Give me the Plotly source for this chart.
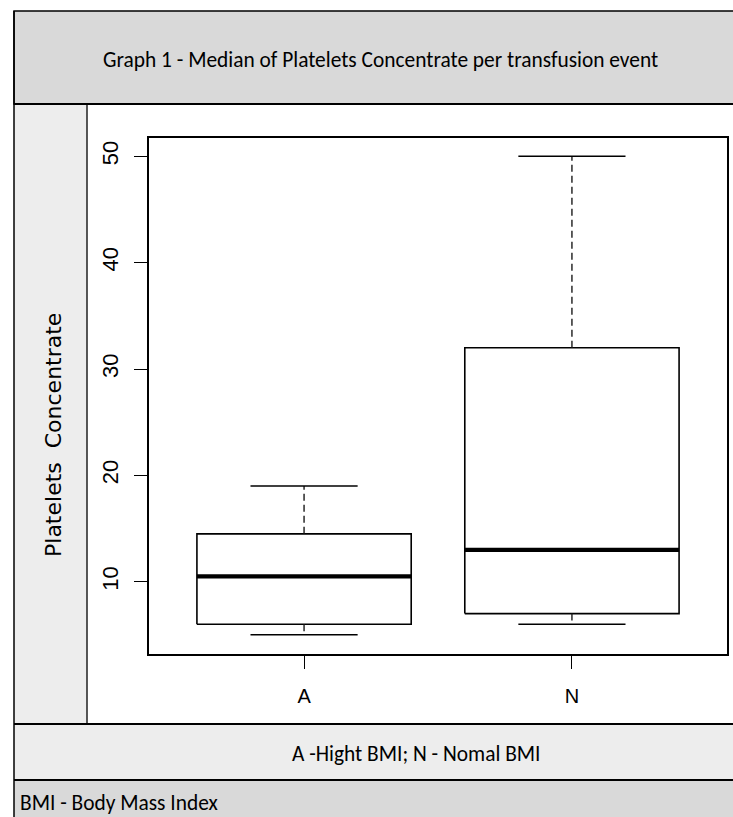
import plotly.graph_objects as go

# ---- data ----
categories = ["A", "N"]
lower_whisker = [5, 6]
q1 = [6, 7]
median = [10.5, 13]
q3 = [14.5, 32]
upper_whisker = [19, 50]
y_ticks = [10, 20, 30, 40, 50]

title_text = "Graph 1 - Median of Platelets Concentrate per transfusion event"
y_title = "Platelets  Concentrate"
x_note = "A -Hight BMI; N - Nomal BMI"
footer = "BMI - Body Mass Index"

W, H = 733, 817
def px(x):
    return x / W
def py(y):
    return 1 - y / H

box_half = 0.4
cap_half = 0.2
positions = [i + 1 for i in range(len(categories))]

fig = go.Figure()
for i, xc in enumerate(positions):
    fig.add_trace(go.Scatter(
        x=[xc - box_half, xc + box_half, xc + box_half, xc - box_half, xc - box_half],
        y=[q1[i], q1[i], q3[i], q3[i], q1[i]],
        mode="lines", fill="toself", fillcolor="white",
        line=dict(color="black", width=1.6), hoverinfo="skip", showlegend=False))
    fig.add_trace(go.Scatter(
        x=[xc, xc, None, xc, xc],
        y=[q3[i], upper_whisker[i], None, q1[i], lower_whisker[i]],
        mode="lines", line=dict(color="#1a1a1a", width=1.4, dash="7px,4px"),
        hoverinfo="skip", showlegend=False))
    fig.add_trace(go.Scatter(
        x=[xc - cap_half, xc + cap_half, None, xc - cap_half, xc + cap_half],
        y=[upper_whisker[i], upper_whisker[i], None, lower_whisker[i], lower_whisker[i]],
        mode="lines", line=dict(color="black", width=1.5),
        hoverinfo="skip", showlegend=False))
    fig.add_trace(go.Scatter(
        x=[xc - box_half, xc + box_half], y=[median[i], median[i]],
        mode="lines", line=dict(color="black", width=4.2),
        hoverinfo="skip", showlegend=False))

shapes = [
    dict(type="rect", xref="paper", yref="paper", x0=px(14), x1=px(745), y0=py(780), y1=py(104),
         fillcolor="#ededed", line=dict(width=0), layer="below"),
    dict(type="rect", xref="paper", yref="paper", x0=px(87), x1=px(745), y0=py(724), y1=py(104),
         fillcolor="white", line=dict(color="#222222", width=1.5), layer="below"),
    dict(type="rect", xref="paper", yref="paper", x0=px(14), x1=px(745), y0=py(104), y1=py(11),
         fillcolor="#d9d9d9", line=dict(color="black", width=1.5), layer="below"),
    dict(type="rect", xref="paper", yref="paper", x0=px(14), x1=px(745), y0=py(840), y1=py(780),
         fillcolor="#d9d9d9", line=dict(width=0), layer="below"),
    dict(type="line", xref="paper", yref="paper", x0=px(14), x1=px(745), y0=py(104), y1=py(104),
         line=dict(color="black", width=2.2)),
    dict(type="line", xref="paper", yref="paper", x0=px(14), x1=px(745), y0=py(724), y1=py(724),
         line=dict(color="black", width=2)),
    dict(type="line", xref="paper", yref="paper", x0=px(14), x1=px(745), y0=py(780), y1=py(780),
         line=dict(color="black", width=2)),
    dict(type="line", xref="paper", yref="paper", x0=px(14), x1=px(14), y0=py(11), y1=py(840),
         line=dict(color="black", width=1.5)),
]

narrow = "Carlito, Lato, Liberation Sans, Arial"
annotations = [
    dict(text=title_text, xref="paper", yref="paper", x=px(380), y=py(60),
         showarrow=False, font=dict(family=narrow, size=21.4, color="black"),
         xanchor="center", yanchor="middle"),
    dict(text=y_title, xref="paper", yref="paper", x=px(53), y=py(435),
         showarrow=False, textangle=-90, font=dict(family="DejaVu Sans", size=22, color="black"),
         xanchor="center", yanchor="middle"),
    dict(text=x_note, xref="paper", yref="paper", x=px(416), y=py(754),
         showarrow=False, font=dict(family=narrow, size=21.4, color="black"),
         xanchor="center", yanchor="middle"),
    dict(text=footer, xref="paper", yref="paper", x=px(18), y=py(803),
         showarrow=False, font=dict(family=narrow, size=21.4, color="black"),
         xanchor="left", yanchor="middle"),
]

fig.update_layout(
    width=W, height=H, margin=dict(l=0, r=0, t=0, b=0),
    paper_bgcolor="white", plot_bgcolor="white",
    shapes=shapes, annotations=annotations, showlegend=False,
    xaxis=dict(domain=[px(148.7), px(727.3)], range=[0.42, 2.58],
               tickmode="array", tickvals=positions, ticktext=categories,
               ticks="outside", ticklen=13, tickwidth=1.3, tickcolor="black",
               showline=True, mirror=True, linecolor="black", linewidth=1.5,
               showgrid=False, zeroline=False, ticklabelstandoff=10,
               tickfont=dict(family="Liberation Sans, Arial", size=20, color="black")),
    yaxis=dict(domain=[py(654), py(137.7)], range=[3.2, 51.75],
               tickmode="array", tickvals=y_ticks, ticktext=[str(v) for v in y_ticks],
               ticks="outside", ticklen=13, tickwidth=1.3, tickcolor="black",
               showline=True, mirror=True, linecolor="black", linewidth=1.5,
               showgrid=False, zeroline=False, tickangle=-90, ticklabelstandoff=7,
               tickfont=dict(family="Liberation Sans, Arial", size=22, color="black")),
)

fig.write_html("out.html", config={"displayModeBar": False},
               post_script="document.body.style.margin='0';document.body.style.overflow='hidden';")
